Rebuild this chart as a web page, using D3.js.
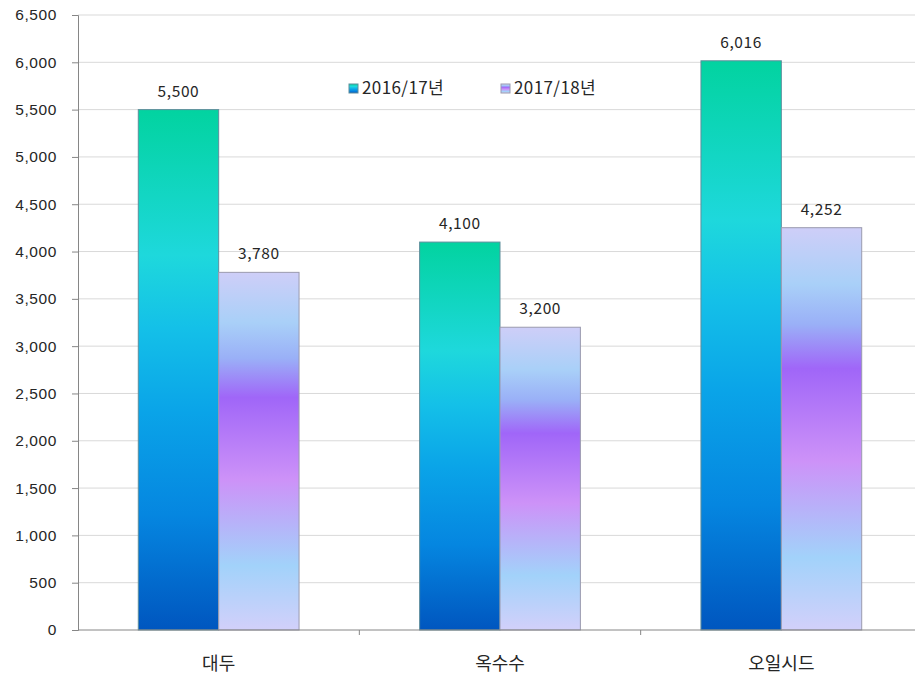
<!DOCTYPE html>
<html>
<head>
<meta charset="utf-8">
<script src="https://cdn.jsdelivr.net/npm/d3@7"></script>
<style>
  body { margin: 0; background: #fff; }
  svg { display: block; font-family: "Noto Sans CJK KR", "Noto Sans", sans-serif; }
</style>
</head>
<body>
<div id="chart"></div>
<script>
const categories = ['대두', '옥수수', '오일시드'];
const seriesNames = ['2016/17년', '2017/18년'];
const values2016 = [5500, 4100, 6016];
const values2017 = [3780, 3200, 4252];
const yTicks = d3.range(0, 6501, 500);

const width = 915;
const height = 676;
const margin = { top: 15, right: -7, bottom: 46, left: 78 };

const svg = d3.select('#chart').append('svg').attr('width', width).attr('height', height);
const defs = svg.append('defs');

// gradients per series, spanning each bar's own height
const grad1 = defs.append('linearGradient').attr('id', 'g1').attr('x1', 0).attr('y1', 0).attr('x2', 0).attr('y2', 1);
[[0, '#02d3a0'], [0.28, '#1ed8dc'], [0.42, '#14c0e8'], [0.58, '#0aa4e8'], [0.78, '#0586e0'], [1, '#0056bf']]
  .forEach(([o, c]) => grad1.append('stop').attr('offset', o).attr('stop-color', c));
const grad2 = defs.append('linearGradient').attr('id', 'g2').attr('x1', 0).attr('y1', 0).attr('x2', 0).attr('y2', 1);
[[0, '#cecef8'], [0.14, '#a9d0f8'], [0.24, '#9ab0f7'], [0.35, '#a066f8'], [0.58, '#cd92f8'], [0.82, '#a2d2fa'], [1, '#d2d0fa']]
  .forEach(([o, c]) => grad2.append('stop').attr('offset', o).attr('stop-color', c));

const x = d3.scaleBand().domain(categories).range([margin.left, width - margin.right]).paddingInner(0).paddingOuter(0);
const x1 = d3.scaleBand().domain([0, 1]).range([0, x.bandwidth()]).paddingOuter(0.75).paddingInner(0);
const y = d3.scaleLinear().domain([0, 6500]).range([height - margin.bottom, margin.top]);

const numFont = { size: 15.5, spacing: 0.6 };

// gridlines
svg.append('g').selectAll('line').data(yTicks.filter((d) => d > 0)).join('line')
  .attr('x1', margin.left).attr('x2', width)
  .attr('y1', (d) => y(d)).attr('y2', (d) => y(d))
  .attr('stroke', '#d9d9d9').attr('stroke-width', 1);

// y axis
const yAxis = svg.append('g').attr('transform', `translate(${margin.left},0)`)
  .call(d3.axisLeft(y).tickValues(yTicks).tickFormat(d3.format(',')).tickSize(6).tickPadding(15));
yAxis.select('.domain').attr('stroke', '#868686');
yAxis.selectAll('.tick line').attr('stroke', '#868686');
yAxis.selectAll('text').attr('font-size', numFont.size).attr('letter-spacing', numFont.spacing).attr('fill', '#262626');

// bars
const series = [values2016, values2017];
const groups = svg.append('g').selectAll('g').data(categories).join('g')
  .attr('transform', (d) => `translate(${x(d)},0)`);
groups.selectAll('rect').data((d, i) => series.map((s, k) => ({ k, v: s[i] }))).join('rect')
  .attr('x', (d) => x1(d.k))
  .attr('y', (d) => y(d.v))
  .attr('width', x1.bandwidth())
  .attr('height', (d) => y(0) - y(d.v))
  .attr('fill', (d) => `url(#g${d.k + 1})`)
  .attr('stroke', (d) => d.k === 0 ? '#5f8e9c' : '#9a9aae')
  .attr('stroke-width', 1);

// value labels
groups.selectAll('text').data((d, i) => series.map((s, k) => ({ k, v: s[i] }))).join('text')
  .attr('x', (d) => x1(d.k) + x1.bandwidth() / 2)
  .attr('y', (d) => y(d.v) - 13)
  .attr('text-anchor', 'middle')
  .attr('font-size', numFont.size).attr('letter-spacing', numFont.spacing).attr('fill', '#262626')
  .text((d) => d3.format(',')(d.v));

// x axis
const xAxis = svg.append('g').attr('transform', `translate(0,${y(0)})`);
xAxis.append('line').attr('x1', margin.left).attr('x2', width).attr('stroke', '#868686');
xAxis.selectAll('line.tk').data(categories.slice(1)).join('line').attr('class', 'tk')
  .attr('x1', (d) => x(d)).attr('x2', (d) => x(d)).attr('y1', 0).attr('y2', 5)
  .attr('stroke', '#868686');
xAxis.selectAll('text').data(categories).join('text')
  .attr('x', (d) => x(d) + x.bandwidth() / 2)
  .attr('y', 40)
  .attr('text-anchor', 'middle')
  .attr('font-size', 18).attr('fill', '#262626')
  .text((d) => d);

// legend
const legendX = [349, 501];
const legend = svg.append('g').selectAll('g').data(seriesNames).join('g')
  .attr('transform', (d, i) => `translate(${legendX[i]},88)`);
legend.append('rect').attr('x', 0).attr('y', -4).attr('width', 9).attr('height', 9)
  .attr('fill', (d, i) => `url(#g${i + 1})`)
  .attr('stroke', (d, i) => i === 0 ? '#5f8e9c' : '#9a9aae');
legend.append('text').attr('x', 13).attr('y', 0).attr('dy', '0.35em')
  .attr('font-size', 17).attr('letter-spacing', 0.4).attr('fill', '#262626')
  .text((d) => d);
</script>
</body>
</html>
